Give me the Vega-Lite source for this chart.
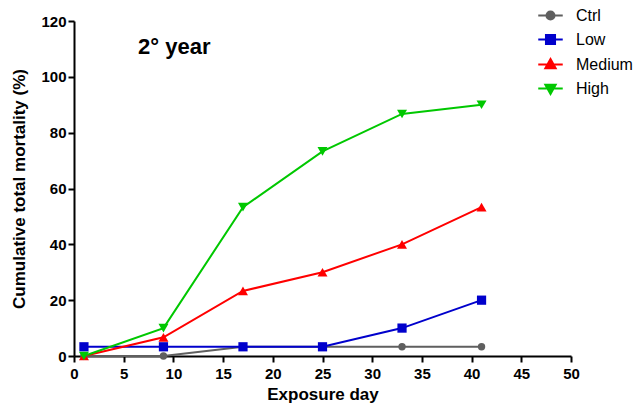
{
  "$schema": "https://vega.github.io/schema/vega-lite/v6.json",
  "width": 497,
  "height": 335,
  "autosize": {"type": "none"},
  "padding": {"left": 74, "top": 21, "right": 65, "bottom": 51},
  "background": "white",
  "config": {
    "view": {"stroke": null},
    "legend": {
      "symbolSize": 600,
      "rowPadding": 2,
      "padding": 0,
      "labelOffset": 12,
      "labelFont": "Liberation Sans",
      "labelFontSize": 16,
      "labelColor": "black",
      "symbolStrokeWidth": 2,
      "symbolOpacity": 1
    },
    "axis": {
      "domainColor": "black",
      "domainWidth": 2,
      "tickColor": "black",
      "tickWidth": 2,
      "grid": false,
      "labelFont": "Liberation Sans",
      "labelFontSize": 15,
      "labelFontWeight": "bold",
      "labelColor": "black",
      "titleFont": "Liberation Sans",
      "titleFontSize": 17,
      "titleFontWeight": "bold",
      "titleColor": "black"
    }
  },
  "datasets": {
    "mort": [
      {"day": 1, "group": "Ctrl", "mortality": 0},
      {"day": 9, "group": "Ctrl", "mortality": 0},
      {"day": 17, "group": "Ctrl", "mortality": 3.3},
      {"day": 25, "group": "Ctrl", "mortality": 3.3},
      {"day": 33, "group": "Ctrl", "mortality": 3.3},
      {"day": 41, "group": "Ctrl", "mortality": 3.3},
      {"day": 1, "group": "Low", "mortality": 3.3},
      {"day": 9, "group": "Low", "mortality": 3.3},
      {"day": 17, "group": "Low", "mortality": 3.3},
      {"day": 25, "group": "Low", "mortality": 3.3},
      {"day": 33, "group": "Low", "mortality": 10},
      {"day": 41, "group": "Low", "mortality": 20},
      {"day": 1, "group": "Medium", "mortality": 0},
      {"day": 9, "group": "Medium", "mortality": 6.7},
      {"day": 17, "group": "Medium", "mortality": 23.3},
      {"day": 25, "group": "Medium", "mortality": 30},
      {"day": 33, "group": "Medium", "mortality": 40},
      {"day": 41, "group": "Medium", "mortality": 53.3},
      {"day": 1, "group": "High", "mortality": 0},
      {"day": 9, "group": "High", "mortality": 10},
      {"day": 17, "group": "High", "mortality": 53.3},
      {"day": 25, "group": "High", "mortality": 73.3},
      {"day": 33, "group": "High", "mortality": 86.7},
      {"day": 41, "group": "High", "mortality": 90}
    ],
    "note": [
      {"label": "2° year"}
    ]
  },
  "data": {"name": "mort"},
  "layer": [
    {
      "mark": {"type": "line", "strokeWidth": 2},
      "encoding": {
        "x": {
          "field": "day",
          "type": "quantitative",
          "scale": {"domain": [0, 50], "nice": false},
          "axis": {
            "title": "Exposure day",
            "values": [0, 2.5, 5, 7.5, 10, 12.5, 15, 17.5, 20, 22.5, 25, 27.5, 30, 32.5, 35, 37.5, 40, 42.5, 45, 47.5, 50],
            "labelExpr": "datum.value % 5 === 0 ? datum.label : ''",
            "tickSize": {"condition": {"test": "datum.value % 5 !== 0", "value": 3.5}, "value": 6},
            "labelPadding": 4,
            "titlePadding": 5,
            "labelFlush": false,
            "labelOverlap": false
          }
        },
        "y": {
          "field": "mortality",
          "type": "quantitative",
          "scale": {"domain": [0, 120], "nice": false},
          "axis": {
            "title": "Cumulative total mortality (%)",
            "values": [0, 20, 40, 60, 80, 100, 120],
            "tickSize": 6,
            "labelPadding": 2,
            "titlePadding": 12
          }
        },
        "stroke": {
          "field": "group",
          "type": "nominal",
          "scale": {
            "domain": ["Ctrl", "Low", "Medium", "High"],
            "range": ["#5f5f5f", "#0000cc", "#ff0000", "#00c800"]
          },
          "legend": {
            "title": null,
            "orient": "none",
            "legendX": 463,
            "legendY": -19,
            "symbolSize": 600,
            "symbolStrokeWidth": 2,
            "labelOffset": 12
          }
        }
      }
    },
    {
      "mark": {"type": "point", "filled": true, "opacity": 1, "size": 0},
      "encoding": {
        "x": {"field": "day", "type": "quantitative"},
        "y": {"field": "mortality", "type": "quantitative"},
        "stroke": {
          "field": "group",
          "type": "nominal",
          "scale": {
            "domain": ["Ctrl", "Low", "Medium", "High"],
            "range": ["#5f5f5f", "#0000cc", "#ff0000", "#00c800"]
          },
          "legend": {
            "title": null,
            "orient": "none",
            "legendX": 463,
            "legendY": -19,
            "symbolSize": 600,
            "symbolStrokeWidth": 2,
            "labelOffset": 12
          }
        },
        "fill": {
          "field": "group",
          "type": "nominal",
          "scale": {
            "domain": ["Ctrl", "Low", "Medium", "High"],
            "range": ["#5f5f5f", "#0000cc", "#ff0000", "#00c800"]
          },
          "legend": {
            "title": null,
            "orient": "none",
            "legendX": 463,
            "legendY": -19,
            "symbolSize": 600,
            "symbolStrokeWidth": 2,
            "labelOffset": 12
          }
        },
        "shape": {
          "field": "group",
          "type": "nominal",
          "scale": {
            "domain": ["Ctrl", "Low", "Medium", "High"],
            "range": [
              "M-1,0H1M-0.33,0A0.33,0.33 0 1,0 0.33,0A0.33,0.33 0 1,0 -0.33,0Z",
              "M-1,0H1M-0.37,-0.37H0.37V0.37H-0.37Z",
              "M-1,0H1M0,-0.45L0.42,0.3H-0.42Z",
              "M-1,0H1M0,0.45L0.42,-0.3H-0.42Z"
            ]
          },
          "legend": {
            "title": null,
            "orient": "none",
            "legendX": 463,
            "legendY": -19,
            "symbolSize": 600,
            "symbolStrokeWidth": 2,
            "labelOffset": 12
          }
        }
      }
    },
    {
      "transform": [{"filter": "datum.group === 'Ctrl'"}],
      "mark": {"type": "point", "filled": true, "opacity": 1, "shape": "circle", "size": 55, "color": "#5f5f5f"},
      "encoding": {"x": {"field": "day", "type": "quantitative"}, "y": {"field": "mortality", "type": "quantitative"}}
    },
    {
      "transform": [{"filter": "datum.group === 'Low'"}],
      "mark": {"type": "point", "filled": true, "opacity": 1, "shape": "square", "size": 85, "color": "#0000cc"},
      "encoding": {"x": {"field": "day", "type": "quantitative"}, "y": {"field": "mortality", "type": "quantitative"}}
    },
    {
      "transform": [{"filter": "datum.group === 'Medium'"}],
      "mark": {"type": "point", "filled": true, "opacity": 1, "shape": "triangle-up", "size": 100, "color": "#ff0000"},
      "encoding": {"x": {"field": "day", "type": "quantitative"}, "y": {"field": "mortality", "type": "quantitative"}}
    },
    {
      "transform": [{"filter": "datum.group === 'High'"}],
      "mark": {"type": "point", "filled": true, "opacity": 1, "shape": "triangle-down", "size": 100, "color": "#00c800"},
      "encoding": {"x": {"field": "day", "type": "quantitative"}, "y": {"field": "mortality", "type": "quantitative"}}
    },
    {
      "data": {"name": "note"},
      "mark": {"type": "text", "align": "left", "baseline": "alphabetic", "font": "Liberation Sans", "fontSize": 22, "fontWeight": "bold", "color": "black"},
      "encoding": {
        "x": {"datum": 6.45, "type": "quantitative"},
        "y": {"datum": 108.3, "type": "quantitative"},
        "text": {"field": "label", "type": "nominal"}
      }
    }
  ]
}
